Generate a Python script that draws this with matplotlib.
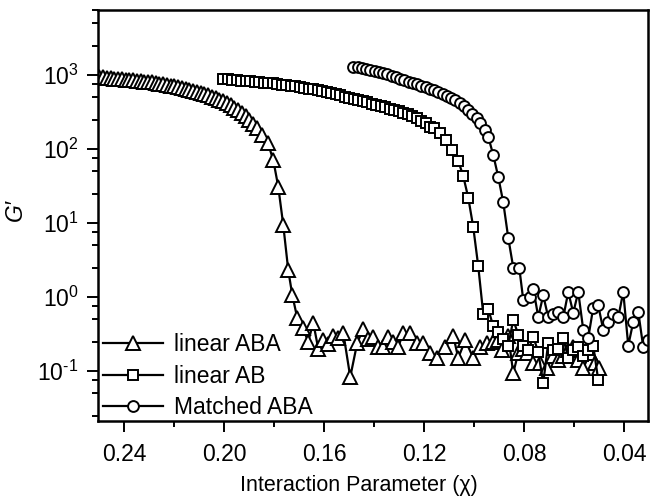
import matplotlib
matplotlib.use("Agg")
import matplotlib.pyplot as plt
from matplotlib.ticker import LogLocator, FixedLocator, MultipleLocator, NullFormatter, FuncFormatter
import math

plt.rcParams['font.family'] = ['Liberation Sans', 'DejaVu Sans']
plt.rcParams['mathtext.fontset'] = 'custom'
plt.rcParams['mathtext.rm'] = 'Liberation Sans'
plt.rcParams['mathtext.it'] = 'Liberation Sans:italic'
plt.rcParams['axes.unicode_minus'] = False

# ---- data ----
aba_x = [0.2500, 0.2485, 0.2470, 0.2455, 0.2440, 0.2425, 0.2410, 0.2395, 0.2380, 0.2365,
         0.2350, 0.2335, 0.2320, 0.2305, 0.2290, 0.2275, 0.2260, 0.2245, 0.2230, 0.2215,
         0.2200, 0.2185, 0.2170, 0.2155, 0.2140, 0.2125, 0.2110, 0.2095, 0.2080, 0.2065,
         0.2050, 0.2035, 0.2020, 0.2005, 0.1990, 0.1975, 0.1960, 0.1945, 0.1930, 0.1915,
         0.1900, 0.1885, 0.1870, 0.1850, 0.1826, 0.1804, 0.1784, 0.1764, 0.1744, 0.1728,
         0.1708, 0.1686, 0.1664, 0.1644, 0.1624, 0.1604, 0.1584, 0.1564, 0.1544, 0.1524,
         0.1496, 0.1468, 0.1444, 0.1424, 0.1404, 0.1384, 0.1364, 0.1344, 0.1324, 0.1304,
         0.1284, 0.1256, 0.1228, 0.1204, 0.1176, 0.1150, 0.1116, 0.1084, 0.1064, 0.1036,
         0.1004, 0.0976, 0.0948, 0.0924, 0.0904, 0.0888, 0.0864, 0.0844, 0.0824, 0.0804,
         0.0788, 0.0764, 0.0736, 0.0708, 0.0684, 0.0664, 0.0644, 0.0624, 0.0604, 0.0584,
         0.0564, 0.0536, 0.0516, 0.0500]
aba_y = [940, 925, 910, 900, 890, 880, 870, 862, 855, 845,
         835, 825, 815, 805, 795, 785, 760, 748, 735, 720,
         705, 690, 665, 650, 635, 615, 595, 572, 550, 530,
         508, 490, 465, 440, 415, 390, 362, 335, 305, 275,
         245, 215, 190, 155, 122, 71, 31, 9.4, 2.3, 1.07,
         0.52, 0.38, 0.25, 0.45, 0.20, 0.26, 0.23, 0.30, 0.28, 0.33,
         0.083, 0.24, 0.37, 0.27, 0.29, 0.21, 0.21, 0.29, 0.25, 0.21,
         0.33, 0.33, 0.24, 0.24, 0.175, 0.15, 0.21, 0.30, 0.15, 0.26,
         0.15, 0.21, 0.24, 0.25, 0.26, 0.19, 0.30, 0.094, 0.175, 0.20,
         0.175, 0.13, 0.13, 0.11, 0.16, 0.14, 0.16, 0.19, 0.21, 0.14,
         0.11, 0.175, 0.13, 0.11]

ab_x = [0.2004, 0.1986, 0.1968, 0.1950, 0.1932, 0.1914, 0.1896, 0.1878, 0.1860, 0.1842,
        0.1824, 0.1806, 0.1788, 0.1770, 0.1752, 0.1734, 0.1716, 0.1698, 0.1680, 0.1662,
        0.1644, 0.1626, 0.1608, 0.1590, 0.1572, 0.1554, 0.1536, 0.1518, 0.1500, 0.1482,
        0.1464, 0.1446, 0.1428, 0.1410, 0.1392, 0.1374, 0.1356, 0.1338, 0.1320, 0.1302,
        0.1284, 0.1266, 0.1248, 0.1230, 0.1212, 0.1194, 0.1176, 0.1160, 0.1136, 0.1112,
        0.1088, 0.1064, 0.1044, 0.1024, 0.1004, 0.0984, 0.0964, 0.0944, 0.0924, 0.0904,
        0.0884, 0.0864, 0.0844, 0.0824, 0.0804, 0.0784, 0.0764, 0.0744, 0.0724, 0.0704,
        0.0684, 0.0664, 0.0644, 0.0624, 0.0604, 0.0584, 0.0564, 0.0544, 0.0524, 0.0504]
ab_y = [880, 870, 860, 850, 840, 828, 818, 808, 800, 790,
        780, 768, 755, 742, 730, 718, 705, 690, 675, 655,
        638, 620, 600, 580, 565, 545, 528, 510, 490, 475,
        458, 440, 425, 410, 398, 385, 370, 352, 340, 328,
        310, 296, 280, 262, 240, 222, 200, 192, 165, 132,
        97, 69, 43, 22, 8.8, 2.6, 0.59, 0.69, 0.40, 0.34,
        0.27, 0.22, 0.49, 0.31, 0.22, 0.19, 0.29, 0.18, 0.069, 0.24,
        0.19, 0.20, 0.28, 0.15, 0.19, 0.21, 0.16, 0.19, 0.22, 0.075]

mat_x = [0.1484, 0.1467, 0.1450, 0.1433, 0.1416, 0.1399, 0.1382, 0.1365, 0.1348, 0.1331,
         0.1314, 0.1297, 0.1280, 0.1263, 0.1246, 0.1229, 0.1212, 0.1195, 0.1178, 0.1161,
         0.1144, 0.1127, 0.1110, 0.1093, 0.1076, 0.1059, 0.1042, 0.1025, 0.1008, 0.0991,
         0.0976, 0.0956, 0.0944, 0.0924, 0.0904, 0.0884, 0.0864, 0.0844, 0.0820, 0.0804,
         0.0776, 0.0764, 0.0744, 0.0724, 0.0704, 0.0684, 0.0664, 0.0644, 0.0624, 0.0604,
         0.0584, 0.0564, 0.0544, 0.0524, 0.0504, 0.0484, 0.0464, 0.0444, 0.0424, 0.0404,
         0.0384, 0.0364, 0.0344, 0.0324, 0.0304]
mat_y = [1280, 1265, 1245, 1220, 1170, 1130, 1095, 1060, 1020, 980,
         930, 890, 850, 815, 780, 750, 720, 690, 655, 620,
         590, 555, 520, 485, 455, 420, 385, 340, 300, 260,
         225, 180, 146, 83, 42, 19, 6.3, 2.5, 2.5, 0.91,
         1.0, 1.3, 0.54, 1.05, 0.53, 0.58, 0.63, 0.53, 1.17, 0.61,
         1.17, 0.36, 0.28, 0.72, 0.77, 0.36, 0.46, 0.58, 0.53, 1.17,
         0.22, 0.46, 0.63, 0.21, 0.26]

labels = ["linear ABA", "linear AB", "Matched ABA"]
x_ticks = [0.24, 0.20, 0.16, 0.12, 0.08, 0.04]
x_tick_labels = ["0.24", "0.20", "0.16", "0.12", "0.08", "0.04"]

# ---- figure ----
fig = plt.figure(figsize=(6.51, 4.96), dpi=100)
ax = fig.add_axes([98/651, 75/496, 550/651, 411/496])

common = dict(color='black', lw=1.6, markerfacecolor='white', markeredgecolor='black',
              markeredgewidth=1.4)
ax.plot(aba_x, aba_y, marker='^', markersize=10, label=labels[0], **common)
ax.plot(ab_x, ab_y, marker='s', markersize=6.8, label=labels[1], **common)
ax.plot(mat_x, mat_y, marker='o', markersize=7.8, label=labels[2], **common)

ax.set_yscale('log')
ax.set_xlim(0.2505, 0.0305)
ax.set_ylim(10**-1.676, 10**3.878)

ax.xaxis.set_major_locator(FixedLocator(x_ticks))
ax.set_xticklabels(x_tick_labels)
ax.xaxis.set_minor_locator(MultipleLocator(0.02))
ax.yaxis.set_major_locator(LogLocator(base=10, numticks=20))
ax.yaxis.set_minor_locator(LogLocator(base=10, subs=[2.5, 5.0, 7.5], numticks=20))
ax.yaxis.set_minor_formatter(NullFormatter())


def _fmt(v, pos):
    e = int(round(math.log10(v)))
    return r"$\mathregular{10^{%s}}$" % (("\u2010" + str(-e)) if e < 0 else str(e))


ax.yaxis.set_major_formatter(FuncFormatter(_fmt))

ax.tick_params(which='major', direction='out', length=8, width=1.4, labelsize=16.5)
ax.tick_params(which='minor', direction='out', length=4.5, width=1.4)
ax.tick_params(axis='x', which='major', pad=8)
ax.tick_params(axis='y', which='major', pad=6)
for s in ax.spines.values():
    s.set_linewidth(1.8)

ax.set_xlabel("Interaction Parameter (χ)", fontsize=15.5, va='top')
ax.xaxis.set_label_coords(0.4745, -0.132)
ax.set_ylabel("G′", fontsize=16.5, style='italic')
ax.yaxis.set_label_coords(-0.13, 0.513)

leg = ax.legend(loc='lower left', bbox_to_anchor=(0.009, 0.004), frameon=False,
                fontsize=16.5, handlelength=2.6, handletextpad=0.5, labelspacing=0.38,
                borderaxespad=0.0, borderpad=0.0, numpoints=1)

fig.savefig("out.png", dpi=100)
